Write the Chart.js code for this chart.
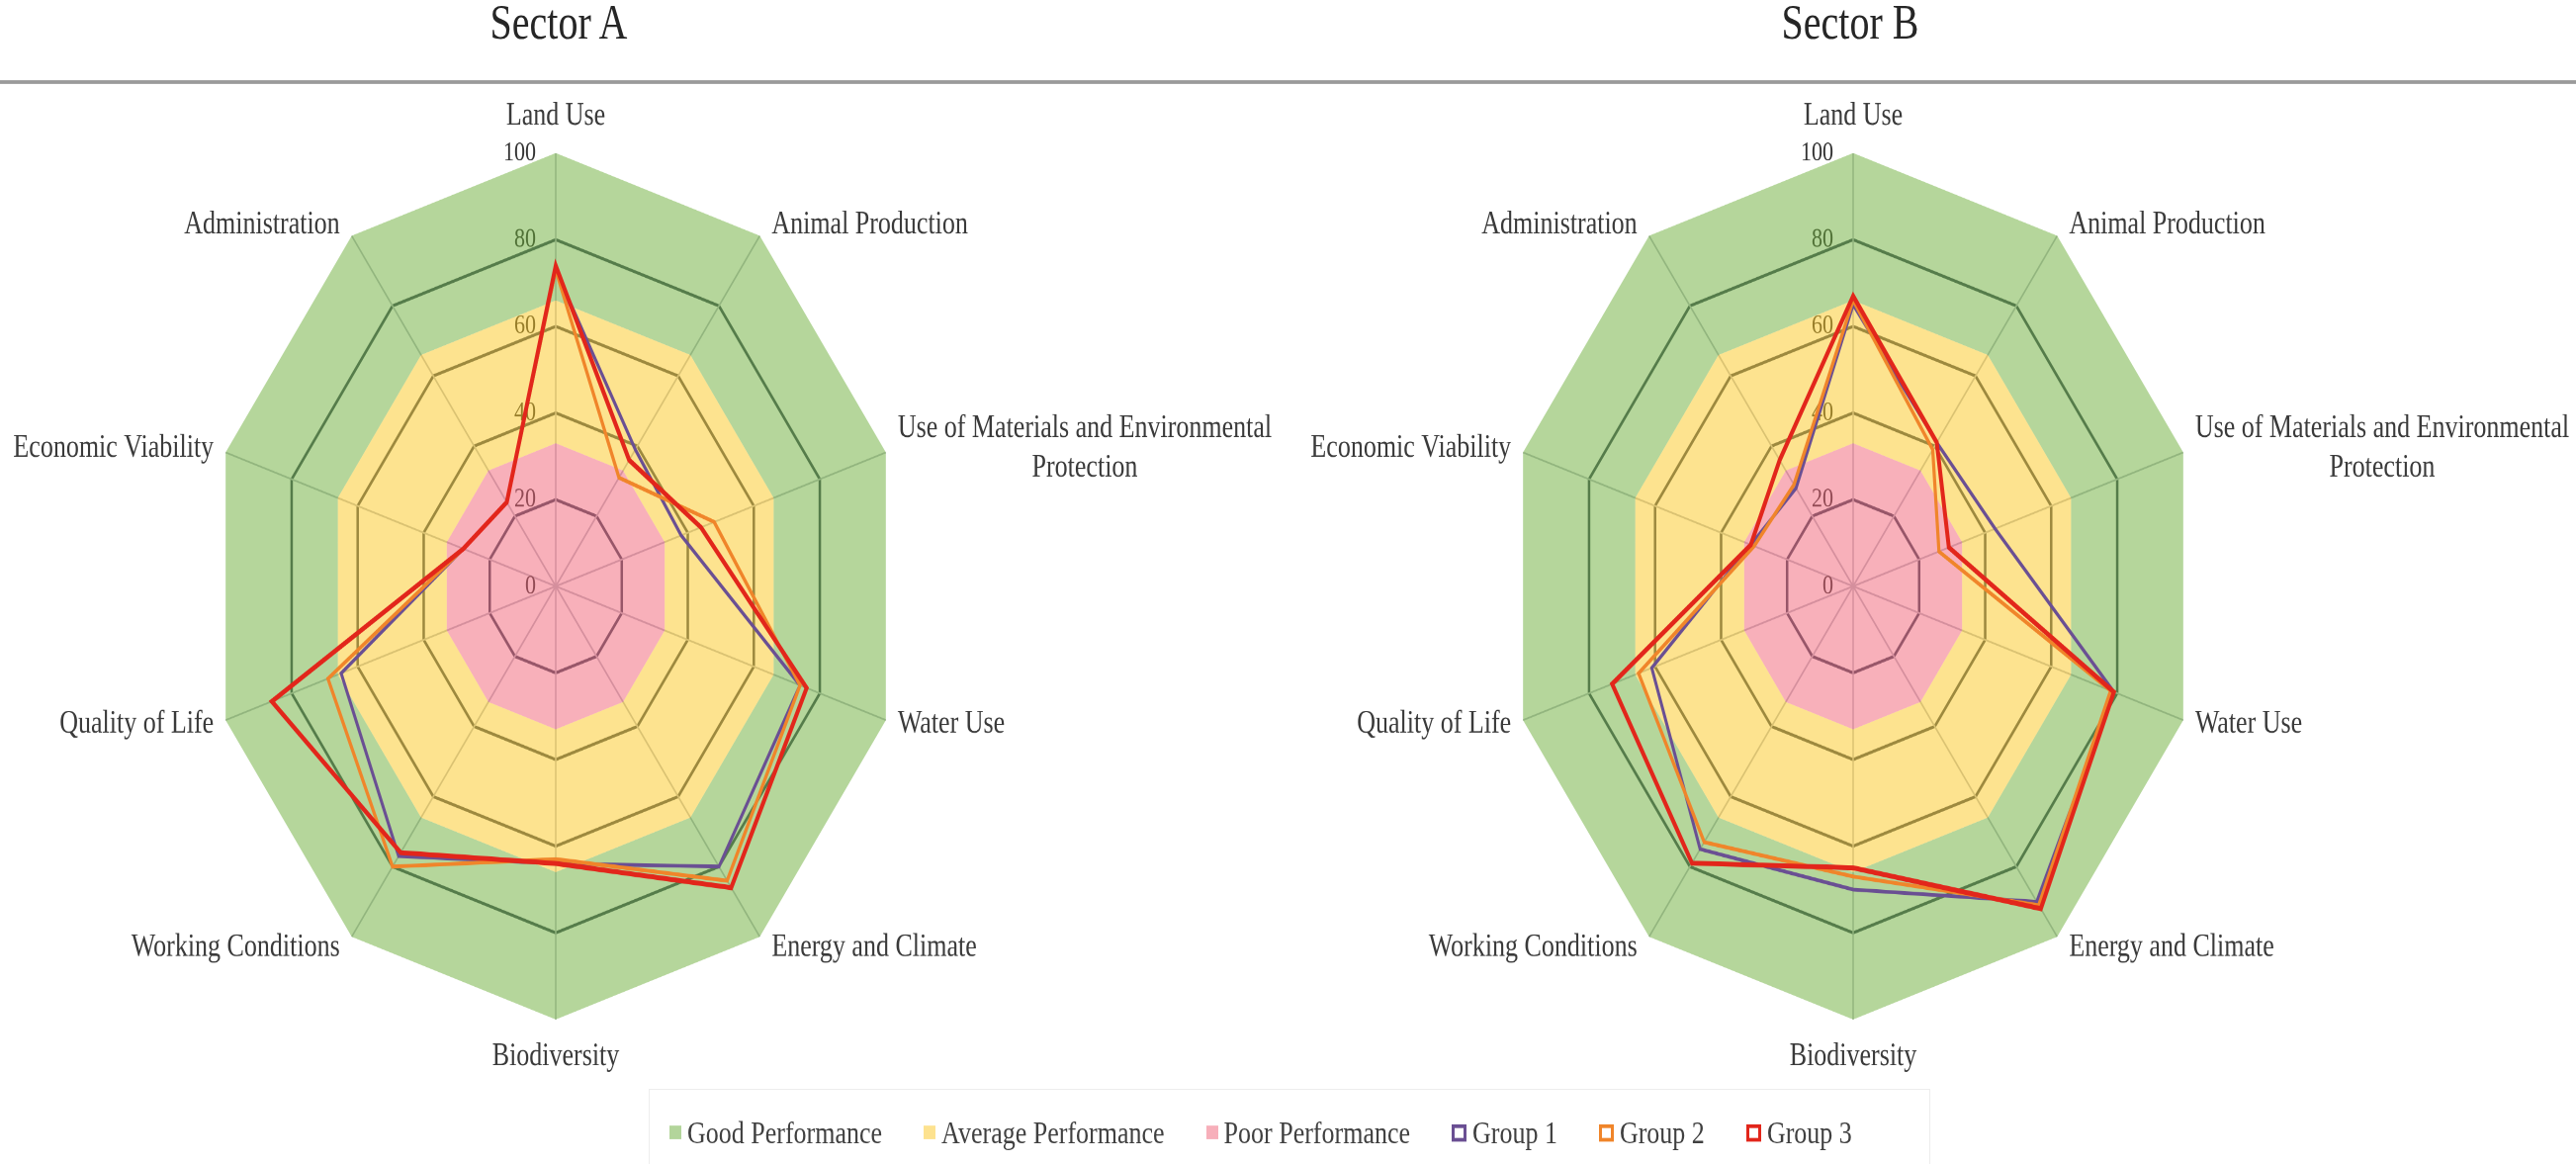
<!DOCTYPE html>
<html>
<head>
<meta charset="utf-8">
<script src="https://cdn.jsdelivr.net/npm/chart.js@4.4.1/dist/chart.umd.min.js"></script>
<style>
  html, body { margin: 0; padding: 0; background: #ffffff; overflow: hidden; }
  #page { position: absolute; left: 0; top: 0; width: 2605px; height: 943px;
          transform: scaleY(1.248); transform-origin: 0 0;
          font-family: "Liberation Serif", "Times New Roman", serif; }
  .title { position: absolute; top: -4px; width: 400px; text-align: center;
           font-size: 40px; line-height: 44px; color: #262626; }
  #rule { position: absolute; left: 0; top: 64.5px; width: 2605px; height: 3px; background: #9a9a9a; }
  canvas { position: absolute; top: 70px; }
  #legend { position: absolute; left: 656px; top: 882px; width: 1296px; height: 70px;
            box-sizing: border-box; border: 1px solid #ededed; border-bottom: none;
            display: flex; align-items: center; padding-left: 20px;
            font-size: 26px; color: #404040; }
  .item { display: flex; align-items: center; margin-right: 42px; white-space: nowrap; }
  .sw { width: 12px; height: 11px; margin-right: 6px; }
  .sw.ln { width: 9px; height: 8px; border: 3px solid; background: #fff; }
</style>
</head>
<body>
<div id="page">
  <div class="title" style="left:365px">Sector A</div>
  <div class="title" style="left:1671px">Sector B</div>
  <div id="rule"></div>
  <canvas id="chartA" width="1300" height="830" style="left:0px;width:1300px;height:830px"></canvas>
  <canvas id="chartB" width="1300" height="830" style="left:1305px;width:1300px;height:830px"></canvas>
  <div id="legend"></div>
</div>
<script>
// ---------------- data ----------------
const categories = [
  'Land Use',
  'Animal Production',
  ['Use of Materials and Environmental', 'Protection'],
  'Water Use',
  'Energy and Climate',
  'Biodiversity',
  'Working Conditions',
  'Quality of Life',
  'Economic Viability',
  'Administration'
];
const tickLabels = [0, 20, 40, 60, 80, 100];

const goodBand    = [100, 100, 100, 100, 100, 100, 100, 100, 100, 100];
const averageBand = [66, 66, 66, 66, 66, 66, 66, 66, 66, 66];
const poorBand    = [33, 33, 33, 33, 33, 33, 33, 33, 33, 33];

const sectorAGroup1 = [73, 39, 38, 74, 80, 64, 77, 65, 28, 24];
const sectorAGroup2 = [73, 31, 48, 74, 84, 63, 80, 69, 28, 24];
const sectorAGroup3 = [74, 36, 44, 76, 86, 64, 76, 86, 28, 24];

const sectorBGroup1 = [65, 41, 43, 79, 90, 70, 75, 61, 31, 28];
const sectorBGroup2 = [66, 39, 26, 78, 91, 67, 73, 65, 30, 29];
const sectorBGroup3 = [67, 41, 29, 79, 92, 65, 79, 73, 31, 36];

const seriesNames = ['Good Performance', 'Average Performance', 'Poor Performance', 'Group 1', 'Group 2', 'Group 3'];

// ---------------- styles ----------------
const GREEN  = 'rgba(107,173,55,0.5)';
const YELLOW = 'rgba(251,199,31,0.5)';
const PINK   = 'rgba(241,97,117,0.5)';
const PURPLE = '#6a4f93';
const ORANGE = '#f0852a';
const RED    = '#e2261b';
const LEGEND_SWATCH = ['#b3d59b', '#fde28f', '#f7afba'];
const TEXT_COLOR = '#3a3a3a';
const LABEL_FONT = '26px "Liberation Serif"';
const TICK_FONT = '22px "Liberation Serif"';

const radarText = {
  id: 'radarText',
  beforeDatasetsDraw(chart) {
    const r = chart.scales.r, ctx = chart.ctx;
    ctx.save();
    ctx.font = TICK_FONT;
    ctx.fillStyle = '#333333';
    ctx.textAlign = 'right';
    ctx.textBaseline = 'middle';
    tickLabels.forEach(t => {
      const p = r.getPointPositionForValue(0, t);
      ctx.fillText(String(t), p.x - 20, p.y);
    });
    ctx.restore();
  },
  afterDatasetsDraw(chart) {
    const r = chart.scales.r, ctx = chart.ctx;
    ctx.save();
    ctx.font = LABEL_FONT;
    ctx.fillStyle = TEXT_COLOR;
    ctx.textAlign = 'center';
    ctx.textBaseline = 'middle';
    chart.data.labels.forEach((lab, i) => {
      const p = r.getPointPosition(i, r.drawingArea);
      const a = r.getIndexAngle(i);
      const s = Math.sin(a), c = Math.cos(a);
      const lines = [].concat(lab);
      const lh = 32, h = lines.length * lh;
      const w = Math.max(...lines.map(l => ctx.measureText(l).width));
      let x, y;
      if (Math.abs(s) < 0.05) { x = p.x; y = p.y - c * (h / 2 + 14); }
      else { x = p.x + Math.sign(s) * (12 + w / 2); y = p.y - c * 11; }
      lines.forEach((l, k) => ctx.fillText(l, x, y - h / 2 + lh / 2 + k * lh));
    });
    ctx.restore();
  }
};

function buildDatasets(g1, g2, g3) {
  const band = { borderWidth: 0, borderColor: 'rgba(0,0,0,0)', pointRadius: 0 };
  const line = { fill: false, pointRadius: 0, borderJoinStyle: 'miter' };
  return [
    Object.assign({ label: seriesNames[0], data: goodBand, fill: '+1', backgroundColor: GREEN, order: 6 }, band),
    Object.assign({ label: seriesNames[1], data: averageBand, fill: '+1', backgroundColor: YELLOW, order: 5 }, band),
    Object.assign({ label: seriesNames[2], data: poorBand, fill: 'origin', backgroundColor: PINK, order: 4 }, band),
    Object.assign({ label: seriesNames[3], data: g1, borderColor: PURPLE, borderWidth: 3, order: 3 }, line),
    Object.assign({ label: seriesNames[4], data: g2, borderColor: ORANGE, borderWidth: 3.2, order: 2 }, line),
    Object.assign({ label: seriesNames[5], data: g3, borderColor: RED, borderWidth: 4, order: 1 }, line)
  ];
}

function makeRadar(id, g1, g2, g3, pad) {
  return new Chart(document.getElementById(id), {
    type: 'radar',
    data: { labels: categories, datasets: buildDatasets(g1, g2, g3) },
    options: {
      responsive: false,
      animation: false,
      devicePixelRatio: 2,
      layout: { padding: pad },
      elements: { line: { tension: 0 } },
      plugins: { legend: { display: false }, tooltip: { enabled: false } },
      scales: {
        r: {
          min: 0, max: 100,
          ticks: { stepSize: 20, display: false },
          pointLabels: { display: false },
          grid: {
            color: ctx => (ctx.tick && ctx.tick.value >= 100) ? 'rgba(0,0,0,0)' : '#3e4a5c',
            lineWidth: 2.5
          },
          angleLines: { color: '#b8bcc4', lineWidth: 1.5 }
        }
      }
    },
    plugins: [radarText]
  });
}

makeRadar('chartA', sectorAGroup1, sectorAGroup2, sectorAGroup3, { left: 211, right: 387, top: 54, bottom: 74 });
makeRadar('chartB', sectorBGroup1, sectorBGroup2, sectorBGroup3, { left: 218, right: 380, top: 54, bottom: 74 });

// ---------------- shared legend ----------------
const legend = document.getElementById('legend');
const lineColors = [PURPLE, ORANGE, RED];
seriesNames.forEach((name, i) => {
  const item = document.createElement('div');
  item.className = 'item';
  const sw = document.createElement('span');
  if (i < 3) { sw.className = 'sw'; sw.style.background = LEGEND_SWATCH[i]; }
  else { sw.className = 'sw ln'; sw.style.borderColor = lineColors[i - 3]; }
  const tx = document.createElement('span');
  tx.textContent = name;
  item.appendChild(sw); item.appendChild(tx);
  legend.appendChild(item);
});
</script>
</body>
</html>
